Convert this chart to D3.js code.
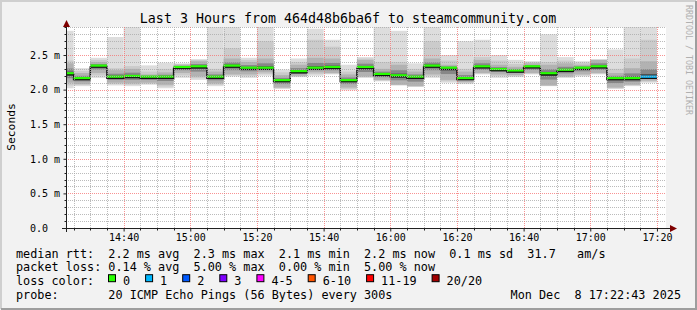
<!DOCTYPE html>
<html>
<head>
<meta charset="utf-8">
<script src="https://cdn.jsdelivr.net/npm/d3@7"></script>
<style>
  body { margin: 0; background: #f2f2f2; }
  svg { display: block; }
  text { font-family: "DejaVu Sans Mono", monospace; white-space: pre; }
</style>
</head>
<body>
<svg width="697" height="310"></svg>
<script>
const svg = d3.select('svg');
const width = +svg.attr('width');
const height = +svg.attr('height');

// one value per 5 minute step (step ends 14:25 ... 17:20), in ms
const median = [2.23, 2.16, 2.34, 2.18, 2.19, 2.18, 2.18, 2.32, 2.33, 2.18, 2.34, 2.31,
                2.31, 2.13, 2.26, 2.31, 2.32, 2.13, 2.32, 2.22, 2.20, 2.18, 2.34, 2.31,
                2.16, 2.33, 2.29, 2.27, 2.33, 2.23, 2.28, 2.31, 2.33, 2.16, 2.16, 2.18];
const smokeMax = [2.85, 2.31, 2.46, 2.76, 3.0, 2.35, 2.39, 2.38, 2.44, 3.0, 3.0, 2.46,
                  3.0, 2.29, 2.45, 2.88, 2.72, 2.36, 2.47, 3.0, 2.85, 2.38, 3.0, 2.50,
                  2.70, 2.72, 2.50, 2.43, 2.41, 2.80, 2.47, 2.41, 2.44, 2.58, 3.0, 3.0];
const smokeUpper = [2.42, 2.27, 2.43, 2.31, 2.34, 2.26, 2.30, 2.37, 2.43, 2.30, 2.60, 2.43,
                    2.70, 2.25, 2.40, 2.72, 2.62, 2.26, 2.45, 2.40, 2.40, 2.30, 2.70, 2.42,
                    2.30, 2.47, 2.42, 2.37, 2.40, 2.40, 2.42, 2.39, 2.43, 2.30, 2.45, 2.72];
const smokeHigh = [2.38, 2.24, 2.40, 2.28, 2.30, 2.22, 2.25, 2.36, 2.41, 2.26, 2.45, 2.40,
                   2.45, 2.21, 2.36, 2.46, 2.45, 2.22, 2.43, 2.30, 2.36, 2.26, 2.45, 2.36,
                   2.26, 2.43, 2.36, 2.33, 2.38, 2.36, 2.38, 2.36, 2.43, 2.24, 2.31, 2.41];
const smokeLow = [2.10, 2.08, 2.24, 2.10, 2.09, 2.10, 2.07, 2.24, 2.19, 2.09, 2.22, 2.22,
                  2.25, 2.03, 2.20, 2.25, 2.24, 2.03, 2.19, 2.14, 2.07, 2.05, 2.22, 2.14,
                  2.11, 2.24, 2.22, 2.21, 2.24, 2.06, 2.19, 2.22, 2.24, 2.03, 2.07, 2.13];
const smokeMin = [2.02, 2.05, 2.17, 2.06, 2.05, 2.07, 2.02, 2.17, 2.14, 2.05, 2.19, 2.17,
                  2.20, 2.01, 2.18, 2.20, 2.22, 1.99, 2.17, 2.12, 2.06, 2.04, 2.17, 2.10,
                  2.08, 2.22, 2.17, 2.18, 2.22, 2.05, 2.17, 2.19, 2.22, 2.01, 2.05, 2.10];
// lost pings out of 20 per step
const lossCount = [0, 0, 0, 0, 0, 0, 0, 0, 0, 0, 0, 0,
                   0, 0, 0, 0, 0, 0, 0, 0, 0, 0, 0, 0,
                   0, 0, 0, 0, 0, 0, 0, 0, 0, 0, 0, 1];

const lossLabels = ['0', '1', '2', '3', '4-5', '6-10', '11-19', '20/20'];
const lossLimits = [0, 1, 2, 3, 5, 10, 19, 20];
const lossColors = ['#26ff00', '#00b8ff', '#0059ff', '#7e00ff', '#ff00ff', '#ff5500', '#ff0000', '#a00000'];

const title = 'Last 3 Hours from 464d48b6ba6f to steamcommunity.com';
const statRows = [
  'median rtt:  2.2 ms avg  2.3 ms max  2.1 ms min  2.2 ms now  0.1 ms sd  31.7   am/s',
  'packet loss: 0.14 % avg  5.00 % max  0.00 % min  5.00 % now',
  'loss color:',
  'probe:       20 ICMP Echo Pings (56 Bytes) every 300s'
];
const stamp = 'Mon Dec  8 17:22:43 2025';

const start = new Date(Date.UTC(2025, 11, 8, 14, 22, 43));
const end = new Date(Date.UTC(2025, 11, 8, 17, 22, 43));
const stepEnds = d3.utcMinute.every(5).range(new Date(Date.UTC(2025, 11, 8, 14, 25)),
                                             new Date(Date.UTC(2025, 11, 8, 17, 20, 1)));

const plot = { left: 66, right: 666, top: 27, bottom: 228 };

const xScale = d3.scaleUtc().domain([start, end]).range([plot.left, plot.right]);
const yScale = d3.scaleLinear().domain([0, 2.905]).range([plot.bottom, plot.top]);

// background + frame
svg.append('rect').attr('width', width).attr('height', height).attr('fill', '#f2f2f2');
svg.append('path').attr('d', `M1,${height - 1}V1H${width - 1}`).attr('stroke', '#cfcfcf').attr('stroke-width', 2).attr('fill', 'none');
svg.append('path').attr('d', `M1,${height - 1}H${width - 1}V1`).attr('stroke', '#9e9e9e').attr('stroke-width', 2).attr('fill', 'none');

svg.append('rect')
  .attr('x', plot.left).attr('y', plot.top)
  .attr('width', plot.right - plot.left).attr('height', plot.bottom - plot.top)
  .attr('fill', '#ffffff');

svg.append('clipPath').attr('id', 'clip').append('rect')
  .attr('x', plot.left).attr('y', plot.top)
  .attr('width', plot.right - plot.left).attr('height', plot.bottom - plot.top);

const steps = stepEnds.map((t, i) => ({
  x0: xScale(Math.max(+start, +t - 300000)),
  x1: xScale(t),
  i: i
}));

// smoke, outer layers first
const lerp = (a, b, t) => a + (b - a) * t;
const layers = [
  { fill: '#dddddd', lo: i => smokeMin[i], hi: i => smokeMax[i] },
  { fill: '#cbcbcb', lo: i => lerp(smokeMin[i], smokeLow[i], 0.5), hi: i => smokeUpper[i] },
  { fill: '#b2b2b2', lo: i => smokeLow[i], hi: i => smokeHigh[i] },
  { fill: '#878787', lo: i => lerp(smokeLow[i], median[i], 0.5), hi: i => lerp(smokeHigh[i], median[i], 0.5) },
  { fill: '#505050', lo: i => lerp(smokeLow[i], median[i], 0.8), hi: i => lerp(smokeHigh[i], median[i], 0.8) }
];

const data = svg.append('g').attr('clip-path', 'url(#clip)');
layers.forEach(layer => {
  data.append('g').selectAll('rect').data(steps)
    .enter().append('rect')
      .attr('x', d => d.x0)
      .attr('width', d => d.x1 - d.x0)
      .attr('y', d => yScale(layer.hi(d.i)))
      .attr('height', d => yScale(layer.lo(d.i)) - yScale(layer.hi(d.i)))
      .attr('fill', layer.fill);
});

// median: dark step line, then coloured by loss
const stepPts = [];
steps.forEach(d => { stepPts.push([d.x0, median[d.i]]); stepPts.push([d.x1, median[d.i]]); });
data.append('path')
  .attr('d', d3.line().x(p => p[0]).y(p => yScale(p[1]) + 1)(stepPts))
  .attr('fill', 'none').attr('stroke', '#111').attr('stroke-width', 1.5);

const lossColor = n => lossColors[lossLimits.findIndex(l => n <= l)];
data.append('g').selectAll('line').data(steps)
  .enter().append('line')
    .attr('x1', d => d.x0).attr('x2', d => d.x1)
    .attr('y1', d => yScale(median[d.i]) - 0.5)
    .attr('y2', d => yScale(median[d.i]) - 0.5)
    .attr('stroke', d => lossColor(lossCount[d.i]))
    .attr('stroke-width', 2.2);

// grid on top
const grid = svg.append('g');
const yMajor = yScale.ticks(6);
const yMinor = d3.range(1, 30).map(k => k / 10)
  .filter(v => Math.round(v * 10) % 5 !== 0 && yScale(v) >= plot.top);
const xMinor = d3.utcMinute.every(5).range(start, end).filter(t => t.getUTCMinutes() % 20 !== 0);
const xMajor = d3.utcMinute.every(20).range(start, end);

const minorColor = 'rgba(170,170,170,0.8)';
const majorColor = 'rgba(245,110,110,0.75)';
grid.selectAll('.hmin').data(yMinor).enter().append('line')
  .attr('x1', plot.left).attr('x2', plot.right)
  .attr('y1', d => Math.round(yScale(d)) + 0.5).attr('y2', d => Math.round(yScale(d)) + 0.5)
  .attr('stroke', minorColor).attr('stroke-dasharray', '1,1');
grid.selectAll('.vmin').data(xMinor).enter().append('line')
  .attr('y1', plot.top).attr('y2', plot.bottom)
  .attr('x1', d => Math.round(xScale(d)) + 0.5).attr('x2', d => Math.round(xScale(d)) + 0.5)
  .attr('stroke', minorColor).attr('stroke-dasharray', '1,1');
grid.selectAll('.hmaj').data(yMajor.filter(v => v > 0)).enter().append('line')
  .attr('x1', plot.left).attr('x2', plot.right)
  .attr('y1', d => Math.round(yScale(d)) + 0.5).attr('y2', d => Math.round(yScale(d)) + 0.5)
  .attr('stroke', majorColor).attr('stroke-dasharray', '1,1');
grid.selectAll('.vmaj').data(xMajor).enter().append('line')
  .attr('y1', plot.top).attr('y2', plot.bottom)
  .attr('x1', d => Math.round(xScale(d)) + 0.5).attr('x2', d => Math.round(xScale(d)) + 0.5)
  .attr('stroke', majorColor).attr('stroke-dasharray', '1,1');

// axes
const yAxis = d3.axisLeft(yScale).tickValues(yMajor).tickSize(3).tickPadding(3.5)
  .tickFormat(d => d === 0 ? '0.0  ' : d3.format('.1f')(d) + ' m');
const gy = svg.append('g').attr('transform', 'translate(66.5,0)').call(yAxis);
gy.select('.domain').remove();
gy.selectAll('text').attr('font-size', 10).attr('font-family', '"DejaVu Sans Mono", monospace').attr('fill', '#000');
gy.selectAll('line').attr('stroke', '#1f1f1f');

const xAxis = d3.axisBottom(xScale).tickValues(xMajor).tickSize(3).tickPadding(2.5)
  .tickFormat(d3.utcFormat('%H:%M'));
const gx = svg.append('g').attr('transform', 'translate(0,228.5)').call(xAxis);
gx.select('.domain').remove();
gx.selectAll('text').attr('font-size', 10).attr('font-family', '"DejaVu Sans Mono", monospace').attr('fill', '#000');
gx.selectAll('line').attr('stroke', '#1f1f1f');

// minor ticks
svg.append('g').selectAll('line').data(xMinor).enter().append('line')
  .attr('x1', d => Math.round(xScale(d)) + 0.5).attr('x2', d => Math.round(xScale(d)) + 0.5)
  .attr('y1', 228.5).attr('y2', 230.5).attr('stroke', '#1f1f1f');
svg.append('g').selectAll('line').data(yMinor).enter().append('line')
  .attr('y1', d => Math.round(yScale(d)) + 0.5).attr('y2', d => Math.round(yScale(d)) + 0.5)
  .attr('x1', 64.5).attr('x2', 66.5).attr('stroke', '#1f1f1f');

// axis lines with arrows
svg.append('line').attr('x1', 62).attr('x2', 671).attr('y1', 228.5).attr('y2', 228.5).attr('stroke', '#1f1f1f');
svg.append('line').attr('x1', 66.5).attr('x2', 66.5).attr('y1', 232).attr('y2', 24).attr('stroke', '#1f1f1f');
svg.append('path').attr('d', 'M670,225L677,228.5L670,232Z').attr('fill', '#7f0000');
svg.append('path').attr('d', 'M63,27L66.5,20L70,27Z').attr('fill', '#7f0000');

// title and labels
svg.append('text').attr('x', 348).attr('y', 23).attr('text-anchor', 'middle')
  .attr('font-size', 13.3).text(title);
svg.append('text').attr('transform', 'translate(15,127) rotate(-90)').attr('text-anchor', 'middle')
  .attr('font-size', 11.3).text('Seconds');
svg.append('text').attr('transform', 'translate(686,5) rotate(90)')
  .attr('font-size', 8.3).attr('fill', '#b0b0b0').text('RRDTOOL / TOBI OETIKER');

// legend
const rowY = i => 257.5 + i * 13.7;
svg.append('g').selectAll('text').data(statRows).enter().append('text')
  .attr('x', 16).attr('y', (d, i) => rowY(i))
  .attr('font-size', 11.8).text(d => d);
svg.append('text').attr('x', 681).attr('y', rowY(3)).attr('text-anchor', 'end')
  .attr('font-size', 11.8).text(stamp);

const charW = 7.1;
let lx = 108;
const swatches = lossLabels.map((l, i) => {
  const s = { x: lx, label: l, color: lossColors[i] };
  lx += 30 + l.length * charW;
  return s;
});
const lg = svg.append('g').selectAll('g').data(swatches).enter().append('g');
lg.append('rect').attr('x', d => d.x + 0.5).attr('y', rowY(2) - 10.2)
  .attr('width', 7).attr('height', 7)
  .attr('fill', d => d.color).attr('stroke', '#000').attr('stroke-width', 1);
lg.append('text').attr('x', d => d.x + 15).attr('y', rowY(2))
  .attr('font-size', 11.8).text(d => d.label);
</script>
</body>
</html>
